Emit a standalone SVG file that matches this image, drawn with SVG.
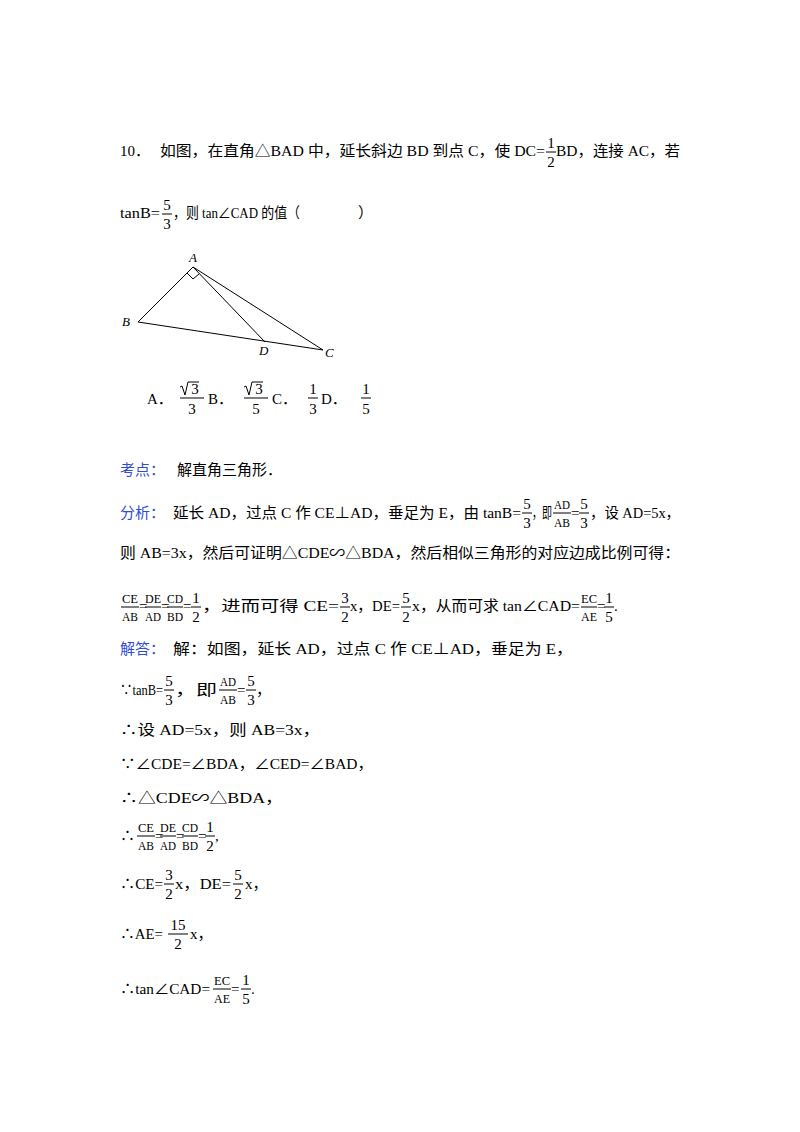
<svg xmlns="http://www.w3.org/2000/svg" width="800" height="1132" viewBox="0 0 800 1132">
<style>
text{font-family:"Liberation Serif","Noto Sans CJK SC",serif;font-size:15px;fill:#000}
.b{fill:#2f4fd0}
.f{font-size:15px;text-anchor:middle}
.n{font-family:"Liberation Serif",serif;font-size:13px;text-anchor:middle}
.l{font-family:"Liberation Serif",serif;font-style:italic;font-size:13px}
line,polyline,path{stroke:#000;stroke-width:1;fill:none}
</style>
<rect width="800" height="1132" fill="#fff"/>
<g id="question">
<text x="120" y="156">10．</text>
<text x="160" y="156" textLength="385" lengthAdjust="spacingAndGlyphs">如图，在直角△BAD 中，延长斜边 BD 到点 C，使 DC=</text>
<text class="f" x="551" y="148">1</text><line x1="546" y1="152" x2="556" y2="152"/><text class="f" x="551" y="167">2</text>
<text x="556" y="156" textLength="124" lengthAdjust="spacingAndGlyphs">BD，连接 AC，若</text>
<text x="120" y="218" textLength="40" lengthAdjust="spacingAndGlyphs">tanB=</text>
<text class="f" x="167" y="210">5</text><line x1="162" y1="214" x2="172" y2="214"/><text class="f" x="167" y="229">3</text>
<text x="173" y="218" textLength="127" lengthAdjust="spacingAndGlyphs">，则 tan∠CAD 的值（</text>
<text x="358" y="218">）</text>
</g>
<g id="figure">
<polyline points="138,322 193,267 323,350"/>
<line x1="138" y1="322" x2="323" y2="350"/>
<line x1="193" y1="267" x2="265" y2="342"/>
<polyline points="187,273 193,279 199,274"/>
<text class="l" x="189" y="262">A</text>
<text class="l" x="122" y="326">B</text>
<text class="l" x="259" y="355">D</text>
<text class="l" x="325" y="357">C</text>
</g>
<g id="options">
<text x="147" y="404">A．</text>
<path d="M180,387 l2,-1 3,9 3,-13 h11"/><text class="f" x="195" y="394">3</text>
<line x1="180" y1="398" x2="204" y2="398"/><text class="f" x="192" y="414">3</text>
<text x="208" y="404">B．</text>
<path d="M244,387 l2,-1 3,9 3,-13 h11"/><text class="f" x="259" y="394">3</text>
<line x1="244" y1="398" x2="268" y2="398"/><text class="f" x="256" y="414">5</text>
<text x="272" y="404">C．</text>
<text class="f" x="313" y="394">1</text><line x1="308" y1="398" x2="318" y2="398"/><text class="f" x="313" y="414">3</text>
<text x="321" y="404">D．</text>
<text class="f" x="366" y="394">1</text><line x1="361" y1="398" x2="371" y2="398"/><text class="f" x="366" y="414">5</text>
</g>
<g id="kaodian">
<text class="b" x="120" y="475">考点：</text>
<text x="177" y="475">解直角三角形．</text>
</g>
<g id="fenxi">
<text class="b" x="120" y="518">分析：</text>
<text x="173" y="518" textLength="348" lengthAdjust="spacingAndGlyphs">延长 AD，过点 C 作 CE⊥AD，垂足为 E，由 tanB=</text>
<text class="f" x="527" y="509">5</text><line x1="522" y1="513" x2="532" y2="513"/><text class="f" x="527" y="528">3</text>
<text x="532" y="518" textLength="20" lengthAdjust="spacingAndGlyphs">，即</text>
<text class="n" x="562" y="509" textLength="16" lengthAdjust="spacingAndGlyphs">AD</text><line x1="553" y1="513" x2="571" y2="513"/><text class="n" x="562" y="527" textLength="16" lengthAdjust="spacingAndGlyphs">AB</text>
<text x="571" y="518">=</text>
<text class="f" x="584" y="509">5</text><line x1="579" y1="513" x2="589" y2="513"/><text class="f" x="584" y="528">3</text>
<text x="590" y="518" textLength="90" lengthAdjust="spacingAndGlyphs">，设 AD=5x，</text>
<text x="120" y="558" textLength="560" lengthAdjust="spacingAndGlyphs">则 AB=3x，然后可证明△CDE∽△BDA，然后相似三角形的对应边成比例可得：</text>
<text class="n" x="130" y="603" textLength="16" lengthAdjust="spacingAndGlyphs">CE</text><line x1="121" y1="607" x2="139" y2="607"/><text class="n" x="130" y="621" textLength="16" lengthAdjust="spacingAndGlyphs">AB</text>
<text x="139" y="611">=</text>
<text class="n" x="153" y="603" textLength="16" lengthAdjust="spacingAndGlyphs">DE</text><line x1="145" y1="607" x2="161" y2="607"/><text class="n" x="153" y="621" textLength="16" lengthAdjust="spacingAndGlyphs">AD</text>
<text x="161" y="611">=</text>
<text class="n" x="175" y="603" textLength="16" lengthAdjust="spacingAndGlyphs">CD</text><line x1="167" y1="607" x2="183" y2="607"/><text class="n" x="175" y="621" textLength="16" lengthAdjust="spacingAndGlyphs">BD</text>
<text x="183" y="611">=</text>
<text class="f" x="196" y="603">1</text><line x1="191" y1="607" x2="201" y2="607"/><text class="f" x="196" y="622">2</text>
<text x="202" y="611" textLength="137" lengthAdjust="spacingAndGlyphs">，进而可得 CE=</text>
<text class="f" x="345" y="603">3</text><line x1="340" y1="607" x2="350" y2="607"/><text class="f" x="345" y="622">2</text>
<text x="350" y="611" textLength="50" lengthAdjust="spacingAndGlyphs">x，DE=</text>
<text class="f" x="406" y="603">5</text><line x1="401" y1="607" x2="411" y2="607"/><text class="f" x="406" y="622">2</text>
<text x="412" y="611" textLength="168" lengthAdjust="spacingAndGlyphs">x，从而可求 tan∠CAD=</text>
<text class="n" x="589" y="603" textLength="16" lengthAdjust="spacingAndGlyphs">EC</text><line x1="581" y1="607" x2="597" y2="607"/><text class="n" x="589" y="621" textLength="16" lengthAdjust="spacingAndGlyphs">AE</text>
<text x="597" y="611">=</text>
<text class="f" x="609" y="603">1</text><line x1="604" y1="607" x2="614" y2="607"/><text class="f" x="609" y="622">5</text>
<text x="614" y="611">.</text>
</g>
<g id="jieda">
<text class="b" x="120" y="654">解答：</text>
<text x="173" y="654" textLength="400" lengthAdjust="spacingAndGlyphs">解：如图，延长 AD，过点 C 作 CE⊥AD，垂足为 E，</text>
<text x="120" y="695" textLength="43" lengthAdjust="spacingAndGlyphs">∵tanB=</text>
<text class="f" x="169" y="686">5</text><line x1="164" y1="690" x2="174" y2="690"/><text class="f" x="169" y="705">3</text>
<text x="175" y="695" textLength="42" lengthAdjust="spacingAndGlyphs">，即</text>
<text class="n" x="228" y="686" textLength="16" lengthAdjust="spacingAndGlyphs">AD</text><line x1="219" y1="690" x2="237" y2="690"/><text class="n" x="228" y="704" textLength="16" lengthAdjust="spacingAndGlyphs">AB</text>
<text x="237" y="695">=</text>
<text class="f" x="251" y="686">5</text><line x1="246" y1="690" x2="256" y2="690"/><text class="f" x="251" y="705">3</text>
<text x="256" y="695">，</text>
<text x="120" y="735" textLength="200" lengthAdjust="spacingAndGlyphs">∴设 AD=5x，则 AB=3x，</text>
<text x="120" y="769" textLength="253" lengthAdjust="spacingAndGlyphs">∵∠CDE=∠BDA，∠CED=∠BAD，</text>
<text x="120" y="803" textLength="163" lengthAdjust="spacingAndGlyphs">∴△CDE∽△BDA，</text>
<text x="120" y="841">∴</text>
<text class="n" x="146" y="832" textLength="16" lengthAdjust="spacingAndGlyphs">CE</text><line x1="137" y1="836" x2="155" y2="836"/><text class="n" x="146" y="850" textLength="16" lengthAdjust="spacingAndGlyphs">AB</text>
<text x="155" y="841">=</text>
<text class="n" x="168" y="832" textLength="16" lengthAdjust="spacingAndGlyphs">DE</text><line x1="160" y1="836" x2="176" y2="836"/><text class="n" x="168" y="850" textLength="16" lengthAdjust="spacingAndGlyphs">AD</text>
<text x="176" y="841">=</text>
<text class="n" x="190" y="832" textLength="16" lengthAdjust="spacingAndGlyphs">CD</text><line x1="182" y1="836" x2="198" y2="836"/><text class="n" x="190" y="850" textLength="16" lengthAdjust="spacingAndGlyphs">BD</text>
<text x="198" y="841">=</text>
<text class="f" x="210" y="832">1</text><line x1="205" y1="836" x2="215" y2="836"/><text class="f" x="210" y="851">2</text>
<text x="215" y="841">,</text>
<text x="120" y="889" textLength="43" lengthAdjust="spacingAndGlyphs">∴CE=</text>
<text class="f" x="169" y="880">3</text><line x1="164" y1="884" x2="174" y2="884"/><text class="f" x="169" y="899">2</text>
<text x="175" y="889" textLength="56" lengthAdjust="spacingAndGlyphs">x，DE=</text>
<text class="f" x="238" y="880">5</text><line x1="233" y1="884" x2="243" y2="884"/><text class="f" x="238" y="899">2</text>
<text x="245" y="889">x，</text>
<text x="120" y="939" textLength="43" lengthAdjust="spacingAndGlyphs">∴AE=</text>
<text class="f" x="178" y="930">15</text><line x1="168" y1="934" x2="188" y2="934"/><text class="f" x="178" y="949">2</text>
<text x="190" y="939">x，</text>
<text x="120" y="994" textLength="90" lengthAdjust="spacingAndGlyphs">∴tan∠CAD=</text>
<text class="n" x="222" y="985" textLength="16" lengthAdjust="spacingAndGlyphs">EC</text><line x1="213" y1="989" x2="231" y2="989"/><text class="n" x="222" y="1003" textLength="16" lengthAdjust="spacingAndGlyphs">AE</text>
<text x="231" y="994">=</text>
<text class="f" x="246" y="985">1</text><line x1="241" y1="989" x2="251" y2="989"/><text class="f" x="246" y="1004">5</text>
<text x="251" y="994">.</text>
</g>
</svg>
